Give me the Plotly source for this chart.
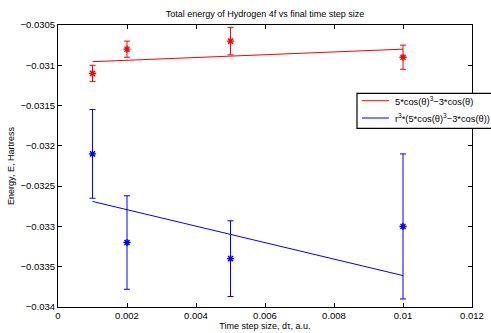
import plotly.graph_objects as go

# Data
dt = [0.001, 0.002, 0.005, 0.01]
red_E = [-0.0311, -0.0308, -0.0307, -0.0309]
red_err = [0.0001, 0.0001, 0.00017, 0.00015]
blue_E = [-0.0321, -0.0332, -0.0334, -0.0330]
blue_err = [0.00055, 0.00058, 0.00047, 0.0009]
fit_x = [0.001, 0.01]
red_fit = [-0.030955, -0.03080]
blue_fit = [-0.03269, -0.03361]

legend_names = ["5*cos(θ)<sup>3</sup>\u22123*cos(θ)",
                "r<sup>3</sup>*(5*cos(θ)<sup>3</sup>\u22123*cos(θ))"]

x_ticks = [0, 0.002, 0.004, 0.006, 0.008, 0.01, 0.012]
x_labels = ["0", "0.002", "0.004", "0.006", "0.008", "0.01", "0.012"]
y_ticks = [-0.034, -0.0335, -0.033, -0.0325, -0.032, -0.0315, -0.031, -0.0305]
y_labels = ["\u22120.034", "\u22120.0335", "\u22120.033", "\u22120.0325",
            "\u22120.032", "\u22120.0315", "\u22120.031", "\u22120.0305"]

RED = "#ff0000"
BLUE = "#0000ff"
FONT = "Liberation Sans, Arial, sans-serif"

fig = go.Figure()

fig.add_trace(go.Scatter(
    x=fit_x, y=red_fit, mode="lines", line=dict(color=RED, width=1),
    name=legend_names[0], showlegend=False))
fig.add_trace(go.Scatter(
    x=fit_x, y=blue_fit, mode="lines", line=dict(color=BLUE, width=1),
    name=legend_names[1], showlegend=False))

fig.add_trace(go.Scatter(
    x=dt, y=red_E, mode="markers", showlegend=False,
    marker=dict(symbol="asterisk-open", size=6, color=RED, line=dict(color=RED, width=1.4)),
    error_y=dict(type="data", array=red_err, color=RED, thickness=1, width=3)))
fig.add_trace(go.Scatter(
    x=dt, y=blue_E, mode="markers", showlegend=False,
    marker=dict(symbol="asterisk-open", size=6, color=BLUE, line=dict(color=BLUE, width=1.4)),
    error_y=dict(type="data", array=blue_err, color=BLUE, thickness=1, width=3)))

axis_common = dict(
    showgrid=False, zeroline=False, mirror="ticks", ticks="inside", ticklen=4,
    showline=True, linecolor="black", linewidth=1, tickcolor="black", automargin=False,
    tickfont=dict(family=FONT, size=9.5, color="black"),
)

# Legend box (drawn manually so it can run past the right edge like the original)
fig.add_shape(type="rect", xref="paper", yref="paper",
              x0=0.7222, x1=1.07, y0=0.6333, y1=0.7574,
              fillcolor="white", line=dict(color="black", width=1.2), layer="above")
leg_y = [0.7315, 0.6702]
leg_col = [RED, BLUE]
for yy, cc, name in zip(leg_y, leg_col, legend_names):
    fig.add_shape(type="line", xref="paper", yref="paper",
                  x0=0.7343, x1=0.7995, y0=yy, y1=yy,
                  line=dict(color=cc, width=1), layer="above")
    fig.add_annotation(xref="paper", yref="paper", x=0.8092, y=yy,
                       xanchor="left", yanchor="middle", showarrow=False,
                       text=name, font=dict(family=FONT, size=9.3, color="black"))

fig.update_layout(
    width=491, height=333,
    margin=dict(l=58, r=19, t=25, b=26),
    paper_bgcolor="white", plot_bgcolor="white",
    title=dict(text="Total energy of Hydrogen 4f vs final time step size",
               x=0.5, xanchor="center", xref="paper", y=0.957, yanchor="middle",
               font=dict(family=FONT, size=9, color="black")),
    xaxis=dict(range=[0, 0.012], tickvals=x_ticks, ticktext=x_labels,
               title=dict(text="Time step size, dτ, a.u.", standoff=0,
                          font=dict(family=FONT, size=9, color="black")),
               **axis_common),
    yaxis=dict(range=[-0.034, -0.0305], tickvals=y_ticks, ticktext=y_labels,
               title=dict(text="Energy, E, Hartress", standoff=4,
                          font=dict(family=FONT, size=9, color="black")),
               **axis_common),
    showlegend=False,
)

fig.write_html("out.html")
